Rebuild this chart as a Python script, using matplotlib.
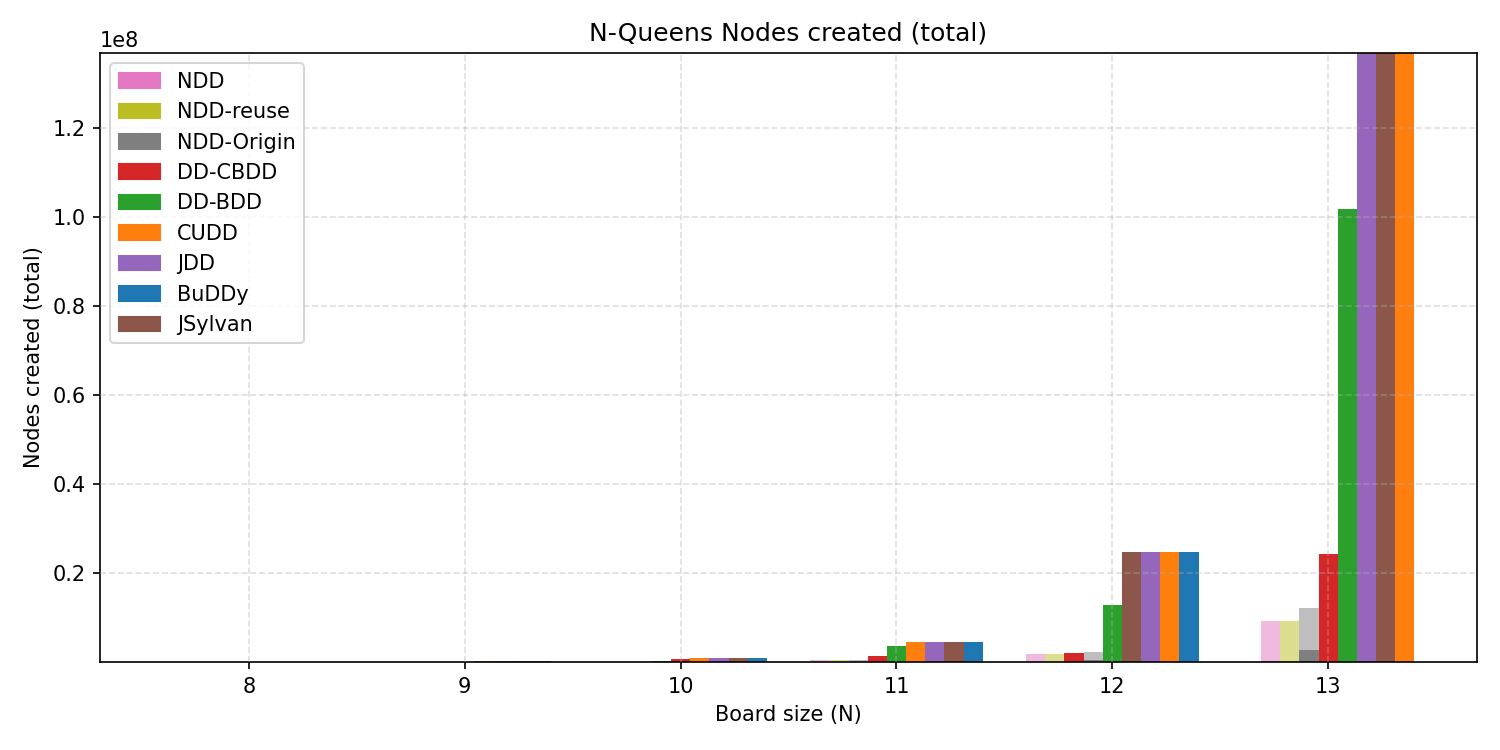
import matplotlib
matplotlib.use("Agg")
import matplotlib.pyplot as plt
from matplotlib.patches import Patch
import numpy as np

sizes = [8, 9, 10, 11, 12, 13]
libs = ["NDD", "NDD-reuse", "NDD-Origin", "DD-CBDD", "DD-BDD", "CUDD", "JDD", "BuDDy", "JSylvan"]
colors = {"NDD": "tab:pink", "NDD-reuse": "tab:olive", "NDD-Origin": "tab:gray",
          "DD-CBDD": "tab:red", "DD-BDD": "tab:green", "CUDD": "tab:orange",
          "JDD": "tab:purple", "BuDDy": "tab:blue", "JSylvan": "tab:brown"}

# total nodes created
ndd_total = [4e3, 1.5e4, 7e4, 3.5e5, 1.87e6, 9.28e6]
ndd_reuse_total = [4.5e3, 1.6e4, 7.2e4, 3.6e5, 1.875e6, 9.3e6]
ndd_origin_total = [6e3, 2.5e4, 1.1e5, 5.2e5, 2.3e6, 1.22e7]
# darker (solid) part of the NDD variants
ndd_core = [5e2, 2e3, 6e3, 2e4, 5e4, 1.5e5]
ndd_reuse_core = [5e2, 2e3, 6e3, 2e4, 5e4, 1.5e5]
ndd_origin_core = [1e3, 5e3, 2e4, 1e5, 5e5, 2.76e6]
dd_cbdd = [2e4, 1e5, 7.5e5, 1.4e6, 2.09e6, 2.43e7]
dd_bdd = [1e4, 4e4, 1.5e5, 3.66e6, 1.29e7, 1.018e8]
cudd = [3e4, 1.6e5, 9.6e5, 4.55e6, 2.4800e7, 1.75e8]
jdd = [3.1e4, 1.61e5, 9.65e5, 4.56e6, 2.4795e7, 1.70e8]
jsylvan = [3.2e4, 1.62e5, 9.7e5, 4.57e6, 2.4790e7, 1.72e8]
buddy = [3.3e4, 1.63e5, 9.75e5, 4.58e6, 2.4805e7, 0]

totals = {"NDD": ndd_total, "NDD-reuse": ndd_reuse_total, "NDD-Origin": ndd_origin_total,
          "DD-CBDD": dd_cbdd, "DD-BDD": dd_bdd, "CUDD": cudd, "JDD": jdd,
          "BuDDy": buddy, "JSylvan": jsylvan}
cores = {"NDD": ndd_core, "NDD-reuse": ndd_reuse_core, "NDD-Origin": ndd_origin_core}

fig, ax = plt.subplots(figsize=(10, 5), dpi=150)
nlib = len(libs)
width = 0.8 / nlib
for gi, n in enumerate(sizes):
    order = sorted(libs, key=lambda l: totals[l][gi])
    for si, lib in enumerate(order):
        x = n + (si - (nlib - 1) / 2) * width
        v = totals[lib][gi]
        if lib in cores:
            ax.bar(x, v, width, color=colors[lib], alpha=0.5, linewidth=0)
            ax.bar(x, cores[lib][gi], width, color=colors[lib], linewidth=0)
        else:
            ax.bar(x, v, width, color=colors[lib], linewidth=0)

ax.set_axisbelow(False)
ax.grid(True, linestyle="--", alpha=0.4)
ax.set_ylim(1, 1.3685e8)
ax.set_xticks(sizes)
ax.set_xlabel("Board size (N)")
ax.set_ylabel("Nodes created (total)")
ax.set_title("N-Queens Nodes created (total)")
handles = [Patch(color=colors[l], label=l) for l in libs]
ax.legend(handles=handles, loc="upper left")
fig.subplots_adjust(left=0.0667, right=0.9847, top=0.9293, bottom=0.1173)
fig.savefig("out.png")
